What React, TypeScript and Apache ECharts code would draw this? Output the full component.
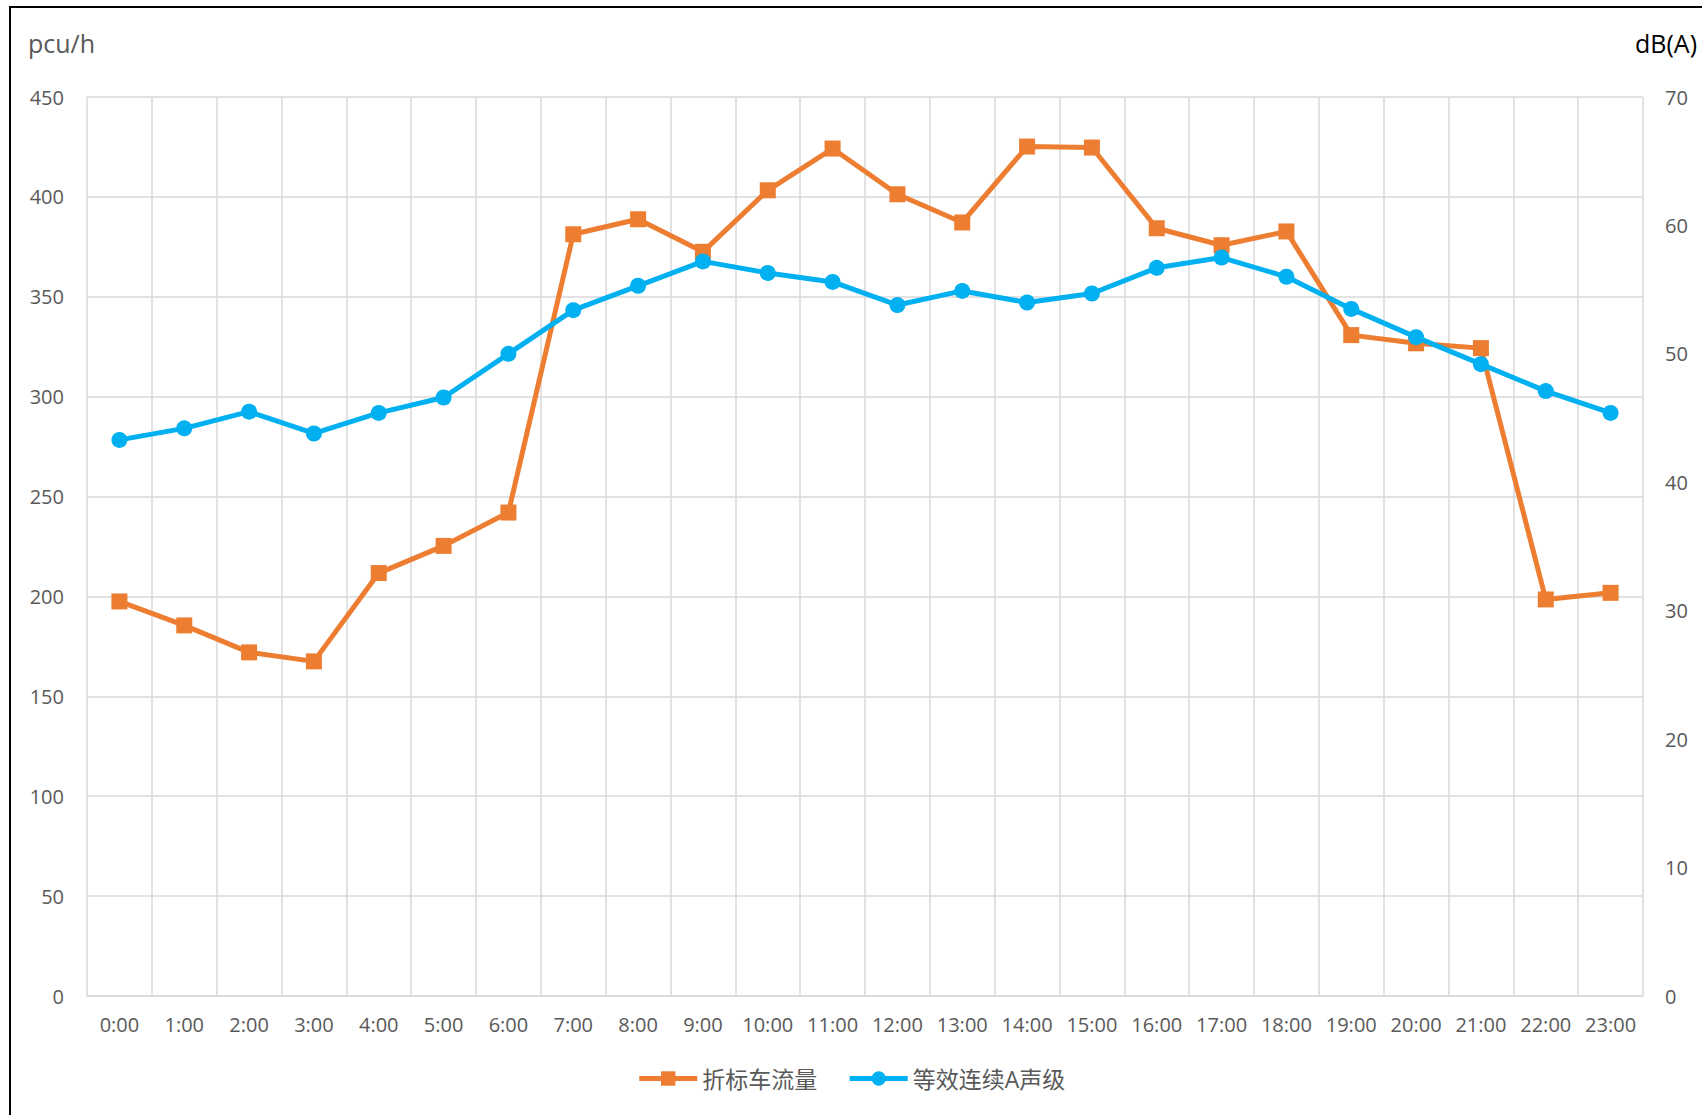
import React, { useEffect, useRef } from "react";
import * as echarts from "echarts";

const hours = ["0:00","1:00","2:00","3:00","4:00","5:00","6:00","7:00","8:00","9:00","10:00","11:00","12:00","13:00","14:00","15:00","16:00","17:00","18:00","19:00","20:00","21:00","22:00","23:00"];
const trafficFlow = [197.5,185.5,172,167.5,211.7,225.3,242,381.3,388.8,372.5,403.3,424.2,401.3,387.2,425.2,424.7,384.3,375.8,382.7,330.8,326.7,324.3,198.5,201.8];
const noiseLevel = [43.3,44.2,45.5,43.8,45.4,46.6,50.0,53.4,55.3,57.2,56.3,55.6,53.8,54.9,54.0,54.7,56.7,57.5,56.0,53.5,51.3,49.2,47.1,45.4];
const seriesNames = ["折标车流量", "等效连续A声级"];
const axisNames = ["pcu/h", "dB(A)"];

const FONT = "'Open Sans', 'Noto Sans CJK SC', sans-serif";
const GRAY = "#595959";

export default function App() {
  const ref = useRef<HTMLDivElement>(null);
  useEffect(() => {
    document.body.style.margin = "0";
    const chart = echarts.init(ref.current!, null, { renderer: "svg" });
    chart.setOption({
      animation: false,
      backgroundColor: "#ffffff",
      textStyle: { fontFamily: FONT },
      graphic: [
        {
          type: "rect",
          shape: { x: 10, y: 7, width: 1760, height: 1200 },
          style: { fill: "none", stroke: "#000000", lineWidth: 2 },
          silent: true,
        },
        {
          type: "text",
          left: 28,
          top: 30,
          style: { text: axisNames[0], fontSize: 25, fill: GRAY, fontFamily: FONT },
        },
        {
          type: "text",
          right: 5,
          top: 30,
          style: { text: axisNames[1], fontSize: 25, fill: "#000000", fontFamily: FONT },
        },
      ],
      grid: { left: 87, right: 59, top: 97, bottom: 119, containLabel: false },
      legend: {
        bottom: 20,
        left: "center",
        itemWidth: 58,
        itemHeight: 18,
        itemGap: 30,
        textStyle: { fontSize: 23, color: GRAY, fontFamily: FONT },
        lineStyle: { width: 5 },
        data: seriesNames,
      },
      xAxis: {
        type: "category",
        data: hours,
        boundaryGap: true,
        axisLine: { show: true, lineStyle: { color: "#d9d9d9", width: 1.5 } },
        axisTick: { show: false },
        axisLabel: { color: GRAY, fontSize: 20, margin: 18, interval: 0, fontFamily: FONT },
        splitLine: { show: true, interval: 0, lineStyle: { color: "#d9d9d9", width: 1.5 } },
      },
      yAxis: [
        {
          type: "value",
          min: 0,
          max: 450,
          interval: 50,
          axisLine: { show: false },
          axisTick: { show: false },
          axisLabel: { color: GRAY, fontSize: 20, margin: 23, fontFamily: FONT },
          splitLine: { show: true, lineStyle: { color: "#d9d9d9", width: 1.5 } },
        },
        {
          type: "value",
          min: 0,
          max: 70,
          interval: 10,
          position: "right",
          axisLine: { show: false },
          axisTick: { show: false },
          axisLabel: { color: GRAY, fontSize: 20, margin: 22, fontFamily: FONT },
          splitLine: { show: false },
        },
      ],
      series: [
        {
          name: seriesNames[0],
          type: "line",
          yAxisIndex: 0,
          data: trafficFlow,
          symbol: "rect",
          symbolSize: 16,
          itemStyle: { color: "#ED7D31" },
          lineStyle: { color: "#ED7D31", width: 5 },
          z: 2,
        },
        {
          name: seriesNames[1],
          type: "line",
          yAxisIndex: 1,
          data: noiseLevel,
          symbol: "circle",
          symbolSize: 16,
          itemStyle: { color: "#00B0F0" },
          lineStyle: { color: "#00B0F0", width: 5 },
          z: 3,
        },
      ],
    });
    return () => chart.dispose();
  }, []);
  return <div ref={ref} style={{ position: "fixed", left: 0, top: 0, width: 1702, height: 1115 }} />;
}
